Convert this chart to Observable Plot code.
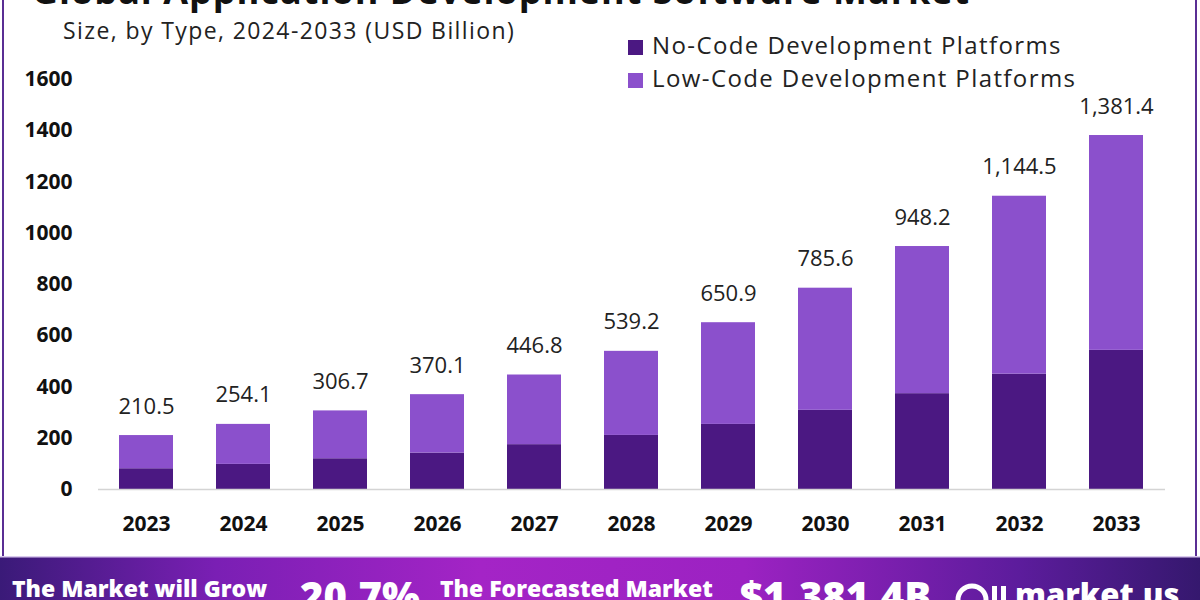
<!DOCTYPE html>
<html>
<head>
<meta charset="utf-8">
<script src="https://cdn.jsdelivr.net/npm/d3@7"></script>
<script src="https://cdn.jsdelivr.net/npm/@observablehq/plot@0.6"></script>
<style>
  html, body { margin: 0; padding: 0; background: #fff; }
  #wrap { position: relative; width: 1200px; height: 600px; overflow: hidden; background: #fff; font-family: "Open Sans", sans-serif; }
  #title { position: absolute; left: 32px; top: -26px; font-size: 36px; line-height: 34px; font-weight: 700; color: #111; white-space: nowrap; letter-spacing: 1px; }
  #subtitle { position: absolute; left: 63px; top: 15px; font-size: 23px; line-height: 30px; color: #222; white-space: nowrap; letter-spacing: 1.4px; }
  #chart { position: absolute; left: 0; top: 0; }
  .legend { position: absolute; left: 628px; font-size: 24px; line-height: 30px; color: #222; white-space: nowrap; letter-spacing: 1.4px; }
  .legend span.sw { display: inline-block; width: 15px; height: 15px; margin-right: 9px; vertical-align: -1px; }
  #borderL { position: absolute; left: 2px; top: 0; width: 2px; height: 556px; background: #5a2e94; }
  #borderR { position: absolute; left: 1195px; top: 0; width: 2px; height: 556px; background: #5a2e94; }
  #banner { position: absolute; left: 0; top: 556px; }
</style>
</head>
<body>
<div id="wrap">
  <div id="title">Global Application Development Software Market</div>
  <div id="subtitle">Size, by Type, 2024-2033 (USD Billion)</div>
  <div id="chart"></div>
  <div id="legend"></div>
  <div id="borderL"></div>
  <div id="borderR"></div>
  <svg id="banner" width="1200" height="44"></svg>
</div>
<script>
// ---- Data ----
const years = ["2023","2024","2025","2026","2027","2028","2029","2030","2031","2032","2033"];
const totals = [210.5, 254.1, 306.7, 370.1, 446.8, 539.2, 650.9, 785.6, 948.2, 1144.5, 1381.4];
const noCode = [81, 98, 120, 142, 175, 211, 254, 309, 374, 450, 543];
const lowCode = [129.5, 156.1, 186.7, 228.1, 271.8, 328.2, 396.9, 476.6, 574.2, 694.5, 838.4];
const types = ["No-Code Development Platforms", "Low-Code Development Platforms"];
const colors = ["#4b1882", "#8b50cc"];
const yTicks = [0, 200, 400, 600, 800, 1000, 1200, 1400, 1600];

// ---- Build table ----
const rows = [];
years.forEach((y, i) => {
  rows.push({year: y, type: types[0], value: noCode[i]});
  rows.push({year: y, type: types[1], value: lowCode[i]});
});
const totalRows = years.map((y, i) => ({year: y, total: totals[i]}));
const fmt = d3.format(",.1f");

const chart = Plot.plot({
  width: 1200,
  height: 556,
  marginTop: 79,
  marginBottom: 67,
  marginLeft: 98,
  marginRight: 35,
  style: {fontFamily: "'Open Sans', sans-serif", background: "transparent", color: "#111"},
  x: {domain: years, paddingInner: 0.44, paddingOuter: 0.22, label: null},
  y: {domain: [0, 1600], label: null},
  color: {domain: types, range: colors},
  marks: [
    Plot.barY(rows, {x: "year", y: "value", fill: "type", order: types}),
    Plot.ruleY([0], {stroke: "#d4d4d4", strokeWidth: 1.5}),
    Plot.text(totalRows, {x: "year", y: "total", text: d => fmt(d.total), lineAnchor: "bottom", dy: -22, fontSize: 22, fill: "#222"}),
    Plot.axisY({ticks: yTicks, tickFormat: d => String(d), tickSize: 0, tickPadding: 26, fontSize: 21, fontWeight: "bold", fill: "#111", label: null}),
    Plot.axisX({tickSize: 0, tickPadding: 27, fontSize: 21, fontWeight: "bold", fill: "#111", label: null})
  ]
});
document.getElementById("chart").appendChild(chart);

// ---- Legend ----
const legend = document.getElementById("legend");
types.forEach((t, i) => {
  const d = document.createElement("div");
  d.className = "legend";
  d.style.top = (30 + i * 33) + "px";
  d.innerHTML = `<span class="sw" style="background:${colors[i]}"></span>${t}`;
  legend.appendChild(d);
});

// ---- Banner ----
const banner = d3.select("#banner");
const defs = banner.append("defs");
const g = defs.append("linearGradient").attr("id", "bg").attr("x1", "0").attr("x2", "1").attr("y1", "0").attr("y2", "0");
[[0, "#3a1a78"], [0.18, "#7a1fb4"], [0.4, "#a424c6"], [0.62, "#9c22c2"], [0.85, "#5c1c9c"], [1, "#35186e"]]
  .forEach(([o, c]) => g.append("stop").attr("offset", o).attr("stop-color", c));
banner.append("rect").attr("width", 1200).attr("height", 44).attr("fill", "url(#bg)");
banner.append("rect").attr("width", 1200).attr("height", 1.5).attr("fill", "#d9c9ee");
const bt = [
  {x: 12, y: 41, s: 23, t: "The Market will Grow"},
  {x: 300, y: 55, s: 40, t: "20.7%"},
  {x: 440, y: 41, s: 23, t: "The Forecasted Market"},
  {x: 740, y: 55, s: 40, t: "$1,381.4B"},
  {x: 1015, y: 50, s: 31, t: "market.us"}
];
bt.forEach(d => banner.append("text").attr("x", d.x).attr("y", d.y)
  .attr("font-family", "'Open Sans', sans-serif").attr("font-weight", 800)
  .attr("font-size", d.s).attr("fill", "#fff").text(d.t));
// logo icon
banner.append("circle").attr("cx", 972).attr("cy", 44).attr("r", 14).attr("fill", "none").attr("stroke", "#fff").attr("stroke-width", 5);
banner.append("rect").attr("x", 992).attr("y", 30).attr("width", 5).attr("height", 20).attr("fill", "#fff");
banner.append("rect").attr("x", 1001).attr("y", 30).attr("width", 5).attr("height", 20).attr("fill", "#fff");
</script>
</body>
</html>
